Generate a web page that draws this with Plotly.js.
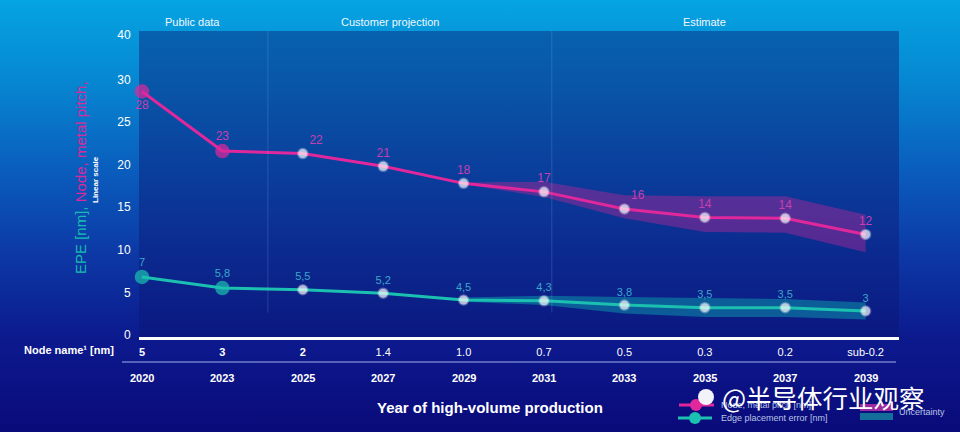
<!DOCTYPE html>
<html>
<head>
<meta charset="utf-8">
<script src="https://cdn.plot.ly/plotly-3.0.1.min.js"></script>
<style>
html,body{margin:0;padding:0;}
body{width:960px;height:432px;overflow:hidden;
background:linear-gradient(to bottom,#05a4e2 0%,#0688d2 18%,#0a5cbc 40%,#0c3aa6 58%,#0c1a8e 78%,#0a0a7a 100%);}
#chart{width:960px;height:432px;}
</style>
</head>
<body>
<div id="chart"></div>
<script>
// ---- data ----
const years = ['2020','2023','2025','2027','2029','2031','2033','2035','2037','2039'];
const nodeNames = ['5','3','2','1.4','1.0','0.7','0.5','0.3','0.2','sub-0.2'];
const pitchValues = [28.6, 21.6, 21.3, 19.8, 17.8, 16.8, 14.8, 13.8, 13.7, 11.8];
const pitchLabels = ['28','23','22','21','18','17','16','14','14','12'];
const epeValues = [6.8, 5.5, 5.3, 4.9, 4.1, 4.0, 3.5, 3.2, 3.2, 2.8];
const epeLabels = ['7','5,8','5,5','5,2','4,5','4,3','3,8','3,5','3,5','3'];
const bandYears = ['2029','2031','2033','2035','2037','2039'];
const pitchUpper = [17.9, 18.0, 16.4, 16.3, 16.3, 14.1];
const pitchLower = [17.7, 16.2, 13.7, 12.1, 12.0, 9.7];
const epeUpper = [4.4, 4.6, 4.45, 4.3, 4.2, 3.8];
const epeLower = [3.9, 3.5, 2.5, 2.1, 2.1, 1.8];
const yTickVals = [0, 5, 10, 15, 20, 25, 30, 35.27];
const yTickText = ['0','5','10','15','20','25','30','40'];
const sections = ['Public data','Customer projection','Estimate'];
const seriesNames = ['Node, metal pitch [nm]','Edge placement error [nm]'];

const PINK = '#e0289c', TEAL = '#1cc0b0';
const idx = years.map((_, i) => i);
const bandIdx = bandYears.map(y => years.indexOf(y));
const FONT = 'Liberation Sans, Arial, sans-serif';

function markerColors(c){ return years.map((_, i) => i < 2 ? c : '#ffffff'); }
function markerSizes(){ return years.map((_, i) => i < 2 ? 12 : 9); }
function markerLines(c){ return years.map((_, i) => i < 2 ? c : 'rgba(255,255,255,0.45)'); }

const traces = [
  {x: bandIdx, y: pitchUpper, mode:'lines', line:{width:0, color:'rgba(0,0,0,0)'}, showlegend:false, hoverinfo:'skip'},
  {x: bandIdx, y: pitchLower, mode:'lines', line:{width:0, color:'rgba(0,0,0,0)'}, fill:'tonexty',
   fillcolor:'rgba(175,40,150,0.45)', showlegend:false, hoverinfo:'skip'},
  {x: bandIdx, y: epeUpper, mode:'lines', line:{width:0, color:'rgba(0,0,0,0)'}, showlegend:false, hoverinfo:'skip'},
  {x: bandIdx, y: epeLower, mode:'lines', line:{width:0, color:'rgba(0,0,0,0)'}, fill:'tonexty',
   fillcolor:'rgba(10,170,175,0.45)', showlegend:false, hoverinfo:'skip'},
  {x: idx, y: pitchValues, name:seriesNames[0], mode:'lines+markers+text',
   line:{color:PINK, width:3},
   marker:{color:markerColors(PINK), size:markerSizes(), line:{color:markerLines(PINK), width:2.5}},
   text: pitchLabels,
   textposition: ['bottom center','top center','top right','top center','top center','top center','top right','top center','top center','top center'],
   textfont:{color:'#c53fb0', size:12, family:FONT}, cliponaxis:false, showlegend:false},
  {x: idx, y: epeValues, name:seriesNames[1], mode:'lines+markers+text',
   line:{color:TEAL, width:3},
   marker:{color:markerColors(TEAL), size:markerSizes(), line:{color:markerLines(TEAL), width:2.5}},
   text: epeLabels,
   textposition:'top center',
   textfont:{color:'#3aa6cc', size:11, family:FONT}, cliponaxis:false, showlegend:false}
];

const px = v => (v - 139) / 760;      // pixel x -> paper
const py = v => (337 - v) / 306;      // pixel y -> paper

const annotations = [];
[[192,0],[390,1],[704,2]].forEach(([xp, i]) => annotations.push({
  xref:'paper', yref:'paper', x:px(xp), y:py(22), text:sections[i], showarrow:false,
  font:{color:'#f2f6ff', size:11, family:FONT}, xanchor:'center', yanchor:'middle'}));
years.forEach((yr, i) => annotations.push({
  xref:'x', yref:'paper', x:i, y:py(378), text:'<b>'+yr+'</b>', showarrow:false,
  font:{color:'#ffffff', size:11, family:FONT}, xanchor:'center', yanchor:'middle'}));
annotations.push({xref:'paper', yref:'paper', x:px(69), y:py(350), text:'<b>Node name¹ [nm]</b>',
  showarrow:false, font:{color:'#ffffff', size:11, family:FONT}, xanchor:'center', yanchor:'middle'});
annotations.push({xref:'paper', yref:'paper', x:px(490), y:py(407), text:'<b>Year of high-volume production</b>',
  showarrow:false, font:{color:'#ffffff', size:15, family:FONT}, xanchor:'center', yanchor:'middle'});
annotations.push({xref:'paper', yref:'paper', x:px(80), y:py(178), textangle:-90,
  text:'<span style="color:#18bcb2">EPE [nm],</span> <span style="color:#d82a9c">Node, metal pitch,</span>',
  showarrow:false, font:{size:15, family:FONT}, xanchor:'center', yanchor:'middle'});
annotations.push({xref:'paper', yref:'paper', x:px(95), y:py(180), textangle:-90,
  text:'<b>Linear scale</b>', showarrow:false, font:{size:8, color:'#ffffff', family:FONT},
  xanchor:'center', yanchor:'middle'});
annotations.push({xref:'paper', yref:'paper', x:px(719), y:py(405), text:seriesNames[0],
  showarrow:false, font:{size:9, color:'#b8c4e6', family:FONT}, xanchor:'left', yanchor:'middle'});
annotations.push({xref:'paper', yref:'paper', x:px(719), y:py(418), text:seriesNames[1],
  showarrow:false, font:{size:9, color:'#b8c4e6', family:FONT}, xanchor:'left', yanchor:'middle'});
annotations.push({xref:'paper', yref:'paper', x:px(897), y:py(412), text:'Uncertainty',
  showarrow:false, font:{size:9, color:'#b8c4e6', family:FONT}, xanchor:'left', yanchor:'middle'});
annotations.push({xref:'paper', yref:'paper', x:px(720), y:py(396), text:'@半导体行业观察',
  showarrow:false, font:{size:25.5, color:'#ffffff', family:'Noto Sans CJK SC, sans-serif'},
  xanchor:'left', yanchor:'middle'});

const shapes = [
  {type:'line', xref:'x', yref:'paper', x0:1.566, x1:1.566, y0:0.08, y1:1, line:{color:'rgba(140,180,235,0.22)', width:1}},
  {type:'line', xref:'x', yref:'paper', x0:5.097, x1:5.097, y0:0.08, y1:1, line:{color:'rgba(140,180,235,0.22)', width:1}},
  {type:'line', xref:'paper', yref:'paper', x0:px(122), x1:px(896), y0:py(362), y1:py(362), line:{color:'rgba(190,205,255,0.85)', width:1}},
  {type:'line', xref:'paper', yref:'paper', x0:px(679), x1:px(714), y0:py(405), y1:py(405), line:{color:PINK, width:3}},
  {type:'circle', xref:'paper', yref:'paper', x0:px(690), x1:px(702), y0:py(399), y1:py(411), fillcolor:PINK, line:{width:0}},
  {type:'line', xref:'paper', yref:'paper', x0:px(678), x1:px(712), y0:py(418), y1:py(418), line:{color:TEAL, width:3}},
  {type:'circle', xref:'paper', yref:'paper', x0:px(689), x1:px(701), y0:py(412), y1:py(424), fillcolor:TEAL, line:{width:0}},
  {type:'rect', xref:'paper', yref:'paper', x0:px(860), x1:px(893), y0:py(404), y1:py(411), fillcolor:'#9a2a9e', line:{width:0}},
  {type:'rect', xref:'paper', yref:'paper', x0:px(860), x1:px(893), y0:py(413), y1:py(420), fillcolor:'#146e9a', line:{width:0}},
  {type:'circle', xref:'paper', yref:'paper', x0:px(698), x1:px(714), y0:py(389), y1:py(405), fillcolor:'rgba(255,255,255,0.95)', line:{width:0}}
];

const layout = {
  width:960, height:432,
  margin:{l:139, r:61, t:31, b:95, autoexpand:false},
  paper_bgcolor:'rgba(0,0,0,0)',
  plot_bgcolor:'rgba(12,22,112,0.42)',
  font:{family:FONT, color:'#ffffff'},
  showlegend:false,
  xaxis:{range:[-0.037, 9.415], tickmode:'array', tickvals:idx,
    ticktext: nodeNames.map((n, i) => i < 3 ? '<b>'+n+'</b>' : n),
    tickfont:{size:11, color:'#ffffff', family:FONT},
    ticks:'outside', ticklen:3, tickcolor:'rgba(0,0,0,0)', automargin:false,
    showgrid:false, zeroline:false, showline:true, linecolor:'#ffffff', linewidth:3},
  yaxis:{range:[-0.25, 35.7], tickmode:'array', tickvals:yTickVals, ticktext:yTickText,
    tickfont:{size:12, color:'#ffffff', family:FONT},
    ticks:'outside', ticklen:5, tickcolor:'rgba(0,0,0,0)', automargin:false,
    showgrid:false, zeroline:false, showline:false},
  annotations, shapes
};

Plotly.newPlot('chart', traces, layout, {displayModeBar:false, staticPlot:true});
</script>
</body>
</html>
